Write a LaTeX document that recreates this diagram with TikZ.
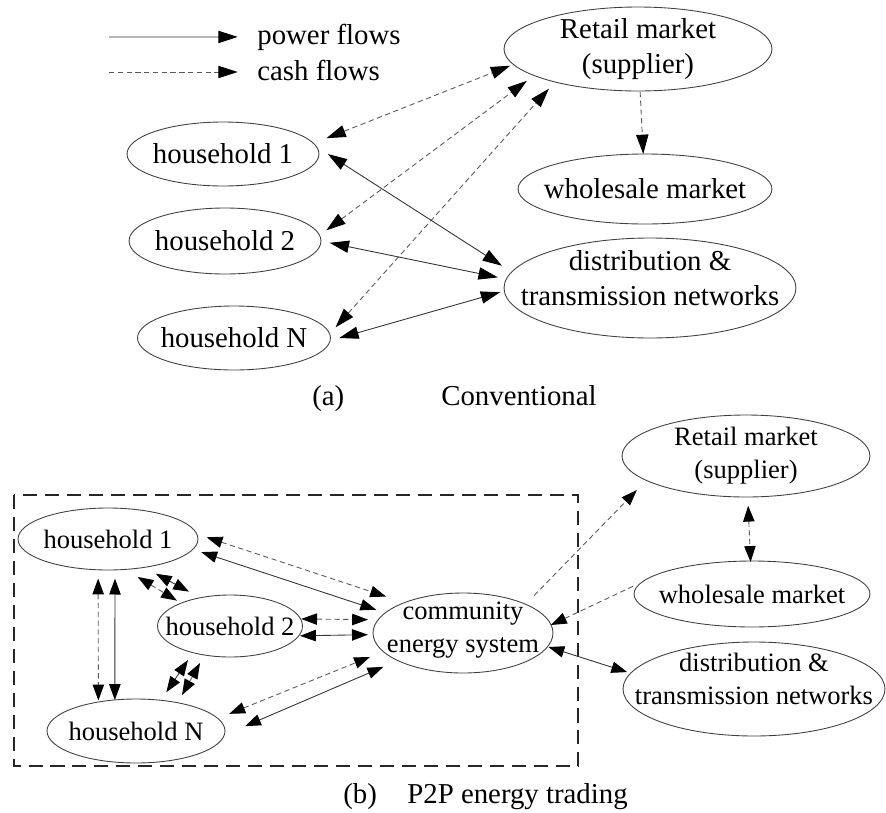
\documentclass[tikz,border=0pt]{standalone}
\usepackage{fontspec}
\setmainfont{Liberation Serif}
\usetikzlibrary{arrows.meta,shapes.geometric}

\begin{document}
\begin{tikzpicture}
    [x=0.02cm,y=-0.02cm,
     every node/.style={font=\fontsize{16.4}{20}\selectfont},
     every label/.style={align=center,inner sep=0pt},
     >={Triangle[length=11pt,width=7pt,color=black]},
     unit/.style={shape=ellipse,draw=black!75,line width=0.5pt,inner sep=0pt,outer sep=5pt},
     power/.style={<->,draw=black!80,line width=0.5pt},
     cash/.style={<->,draw=black!65,line width=0.5pt,dash pattern=on 3pt off 2pt},
     frame/.style={draw=black!85,line width=1.6pt,dash pattern=on 8pt off 4.5pt}]
    \useasboundingbox (0,0) rectangle (886,812);

    % (a) conventional
    \coordinate (pw) at (109,37);
    \coordinate (cs) at (109,72);
    \node [anchor=base west,inner sep=0pt] (pwtxt) at (257,44) {power flows};
    \node [anchor=base west,inner sep=0pt] (cstxt) at (257,80) {cash flows};
    \draw [power,->,shorten >=11pt] (pw) -- (pwtxt.west);
    \draw [cash,->,shorten >=11pt] (cs) -- (cs -| cstxt.west);

    \node [unit,minimum width=5.36cm,minimum height=1.68cm] (RA)
      [label=center:{Retail market\\(supplier)}] at (638,49) {};
    \node [unit,minimum width=5.08cm,minimum height=1.4cm] (WA)
      [label=center:wholesale market] at (645,189) {};
    \node [unit,minimum width=5.84cm,minimum height=2cm] (DA)
      [label={[yshift=0.2cm]center:distribution \&\\transmission networks}] at (650,288) {};
    \node [unit,minimum width=3.84cm,minimum height=1.28cm] (H1A)
      [label=center:household 1] at (223,154) {};
    \node [unit,minimum width=3.84cm,minimum height=1.32cm] (H2A)
      [label=center:household 2] at (225,241) {};
    \node [unit,minimum width=3.86cm,minimum height=1.28cm] (HNA)
      [label=center:household N] at (234,338) {};

    \draw [cash,shorten <=3pt,shorten >=-3pt] (H1A.8) -- (RA.188);
    \draw [cash] (H2A.6) -- (RA.196);
    \draw [cash] (HNA.6) -- (RA.204);
    \draw [cash,->,shorten <=-4.5pt,shorten >=-5pt] (RA) -- (WA);
    \draw [power,shorten >=2pt] (H1A.0) -- (DA.172);
    \draw [power] (H2A.-1) -- (DA.176);
    \draw [power,shorten >=-2.5pt] (HNA.0) -- (DA.182);

    \node [anchor=base west,inner sep=0pt] (capa) at (312,405) {(a)};
    \node [anchor=base west,inner sep=0pt] (capatxt) at (441,405) {Conventional};

    % (b) P2P energy trading
    \draw [frame] (14,495) rectangle (578,766);

    \begin{scope}[every label/.append style={font=\fontsize{15.1}{18.8}\selectfont},
                  >={Triangle[length=9pt,width=6.5pt,color=black]}]
    \node [unit,minimum width=3.6cm,minimum height=1.24cm] (H1B)
      [label=center:household 1] at (108,539) {};
    \node [unit,minimum width=2.9cm,minimum height=1.24cm] (H2B)
      [label=center:household 2] at (230,626) {};
    \node [unit,minimum width=3.56cm,minimum height=1.28cm] (HNB)
      [label=center:household N] at (136,731) {};
    \node [unit,minimum width=3.6cm,minimum height=1.6cm] (CES)
      [label={[yshift=0.06cm]center:community\\energy system}] at (463,633) {};
    \node [unit,minimum width=4.96cm,minimum height=1.64cm] (RB)
      [label=center:{Retail market\\(supplier)}] at (746,456) {};
    \node [unit,minimum width=4.72cm,minimum height=1.32cm] (WB)
      [label=center:wholesale market] at (752,594) {};
    \node [unit,minimum width=5.24cm,minimum height=1.88cm] (DB)
      [label={[yshift=0.2cm]center:distribution \&\\transmission networks}] at (754,689) {};

    \draw [cash,shorten >=4pt] (H1B.1) -- (CES.154);
    \draw [power] (H1B.352) -- (CES.165);
    \draw [cash,shorten <=-5pt] (H2B.5) -- (CES.172);
    \draw [power,shorten <=-5pt,shorten >=-2pt] (H2B.-7) -- (CES.181);
    \draw [cash,shorten <=2pt,shorten >=3pt] (HNB.10) -- (CES.194);
    \draw [power,shorten <=7pt,shorten >=3pt] (HNB.0) -- (CES.203);
    \draw [cash,shorten >=-4pt] (H1B.256) -- (HNB.135);
    \draw [power,shorten >=-5pt] (H1B.280) -- (HNB.118);
    \draw [cash,shorten >=-3pt] (H1B.308) -- (H2B.154);
    \draw [power] (H1B.324) -- (H2B.140);
    \draw [power] (H2B.219) -- (HNB.52);
    \draw [cash] (H2B.231) -- (HNB.38);
    \draw [cash,->,shorten <=2pt,shorten >=3pt] (CES.27) -- (RB.196);
    \draw [cash,->,shorten <=-4.5pt,shorten >=-5pt] (WB.178) -- (CES.7);
    \draw [power,shorten <=-4.5pt,shorten >=-3pt] (CES.350) -- (DB.172);
    \draw [cash,shorten >=-5.5pt] (RB) -- (WB);
    \end{scope}

    \node [anchor=base west,inner sep=0pt] (capb) at (343,803) {(b)};
    \node [anchor=base west,inner sep=0pt] (capbtxt) at (407,803) {P2P energy trading};
  \end{tikzpicture}
\end{document}
